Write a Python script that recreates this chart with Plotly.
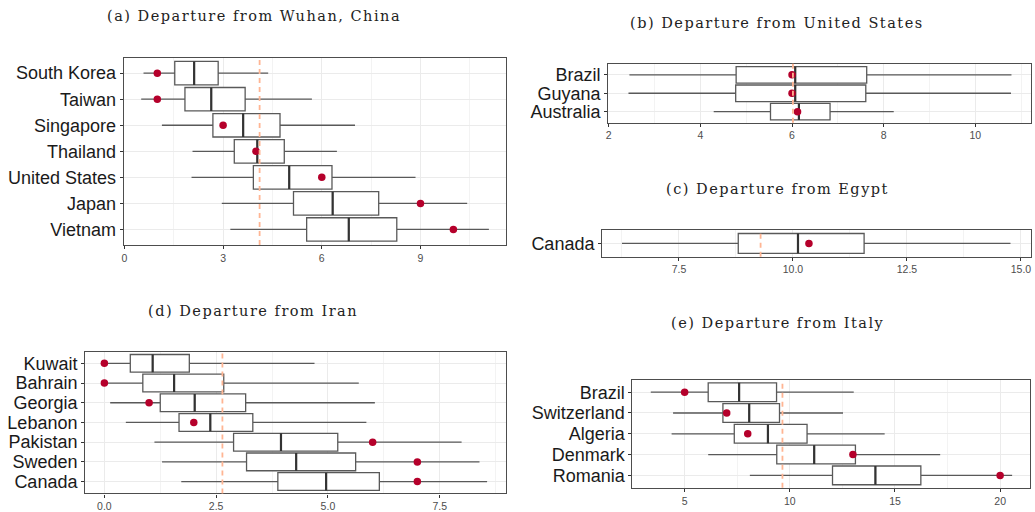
import plotly.graph_objects as go

# ---- (a) Departure from Wuhan, China ----
wuhan_countries = ["South Korea", "Taiwan", "Singapore", "Thailand", "United States", "Japan", "Vietnam"]
wuhan_low = [0.58, 0.51, 1.14, 2.07, 2.04, 2.96, 3.22]
wuhan_q1 = [1.53, 1.84, 2.69, 3.34, 3.92, 5.14, 5.54]
wuhan_med = [2.12, 2.64, 3.61, 4.04, 5.01, 6.33, 6.82]
wuhan_q3 = [2.85, 3.67, 4.73, 4.86, 6.31, 7.73, 8.28]
wuhan_high = [4.37, 5.70, 7.01, 6.46, 8.85, 10.42, 11.08]
wuhan_obs = [1, 1, 3, 4, 6, 9, 10]
wuhan_ref = 4.11

# ---- (b) Departure from United States ----
us_countries = ["Brazil", "Guyana", "Australia"]
us_low = [2.45, 2.43, 4.29]
us_q1 = [4.78, 4.77, 5.53]
us_med = [6.07, 6.07, 6.15]
us_q3 = [7.63, 7.61, 6.83]
us_high = [10.79, 10.78, 8.22]
us_obs = [6, 6, 6.12]
us_ref = 6.02

# ---- (c) Departure from Egypt ----
egypt_countries = ["Canada"]
egypt_low = [6.25]
egypt_q1 = [8.80]
egypt_med = [10.11]
egypt_q3 = [11.56]
egypt_high = [14.77]
egypt_obs = [10.35]
egypt_ref = 9.29

# ---- (d) Departure from Iran ----
iran_countries = ["Kuwait", "Bahrain", "Georgia", "Lebanon", "Pakistan", "Sweden", "Canada"]
iran_low = [0.0, 0.0, 0.13, 0.48, 1.12, 1.29, 1.72]
iran_q1 = [0.58, 0.86, 1.25, 1.67, 2.89, 3.18, 3.88]
iran_med = [1.08, 1.56, 2.02, 2.37, 3.95, 4.29, 4.96]
iran_q3 = [1.90, 2.67, 3.16, 3.32, 5.22, 5.62, 6.15]
iran_high = [4.70, 5.69, 6.05, 5.86, 7.99, 8.39, 8.56]
iran_obs = [0, 0, 1, 2, 6, 7, 7]
iran_ref = 2.64

# ---- (e) Departure from Italy ----
italy_countries = ["Brazil", "Switzerland", "Algeria", "Denmark", "Romania"]
italy_low = [3.39, 4.45, 4.38, 6.12, 8.10]
italy_q1 = [6.12, 6.82, 7.36, 9.38, 12.03]
italy_med = [7.59, 8.07, 8.96, 11.16, 14.07]
italy_q3 = [9.37, 9.51, 10.82, 13.12, 16.23]
italy_high = [13.04, 12.53, 14.51, 17.15, 20.57]
italy_obs = [5, 7, 8, 13, 20]
italy_ref = 9.65

W, H = 1035, 512

BOX_LINE = "#595959"
MEDIAN_LINE = "#333333"
DOT_COLOR = "#B5002B"
REF_COLOR = "#FFB593"
GRID = "#EBEBEB"
BOX_WIDTH = 0.9
TITLE_FONT = dict(family="DejaVu Serif", size=14.5, color="#222222")

fig = go.Figure()


def px_domain_x(left, right):
    return [left / W, right / W]


def px_domain_y(top, bottom):
    return [1 - bottom / H, 1 - top / H]


def add_panel(idx, countries, low, q1, med, q3, high, obs, ref,
              xdom, ydom, xrange, dtick, minor_dtick, tickformat, title, title_xy):
    xa = "x" if idx == 1 else f"x{idx}"
    ya = "y" if idx == 1 else f"y{idx}"
    n = len(countries)
    pos = list(range(n))

    fig.add_trace(go.Box(
        y=pos, q1=q1, median=med, q3=q3,
        lowerfence=low, upperfence=high,
        orientation="h", width=BOX_WIDTH, whiskerwidth=0,
        fillcolor="white", line=dict(color=BOX_LINE, width=1.3),
        boxpoints=False, showlegend=False, xaxis=xa, yaxis=ya,
        hoverinfo="skip",
    ))

    # thicker median bars, drawn over the boxes
    mx, my = [], []
    for p, m in zip(pos, med):
        mx += [m, m, None]
        my += [p - BOX_WIDTH / 2, p + BOX_WIDTH / 2, None]
    fig.add_trace(go.Scatter(
        x=mx, y=my, mode="lines", line=dict(color=MEDIAN_LINE, width=2.2),
        showlegend=False, xaxis=xa, yaxis=ya, hoverinfo="skip",
    ))

    fig.add_trace(go.Scatter(
        x=obs, y=pos, mode="markers",
        marker=dict(color=DOT_COLOR, size=7.5),
        showlegend=False, xaxis=xa, yaxis=ya, hoverinfo="skip",
    ))
    fig.add_shape(type="line", xref=xa, yref=f"{ya} domain",
                  x0=ref, x1=ref, y0=0, y1=1,
                  line=dict(color=REF_COLOR, width=1.8, dash="5px,4px"),
                  layer="above")

    xkey = "xaxis" if idx == 1 else f"xaxis{idx}"
    ykey = "yaxis" if idx == 1 else f"yaxis{idx}"
    fig.layout[xkey] = dict(
        domain=xdom, anchor=ya, range=xrange,
        tick0=0, dtick=dtick, tickformat=tickformat,
        showgrid=True, gridcolor=GRID, gridwidth=1,
        minor=dict(dtick=minor_dtick, tick0=0, showgrid=True,
                   gridcolor="#F3F3F3", gridwidth=0.6, ticks=""),
        zeroline=False,
        showline=True, mirror=True, linecolor="#4D4D4D", linewidth=1.2,
        ticks="outside", ticklen=3, tickcolor="#333333", tickwidth=1,
        tickfont=dict(family="Liberation Sans", size=10.5, color="#4D4D4D"),
        fixedrange=True,
    )
    fig.layout[ykey] = dict(
        domain=ydom, anchor=xa,
        tickmode="array", tickvals=pos, ticktext=countries,
        range=[n - 0.4, -0.6],
        showgrid=True, gridcolor=GRID, gridwidth=1,
        zeroline=False,
        showline=True, mirror=True, linecolor="#4D4D4D", linewidth=1.2,
        ticks="outside", ticklen=3, tickcolor="#333333", tickwidth=1,
        tickfont=dict(family="Liberation Sans", size=18, color="#1A1A1A"),
        fixedrange=True,
    )
    fig.add_annotation(text=f'<span style="letter-spacing:1.5px">{title}</span>',
                       xref="paper", yref="paper",
                       x=title_xy[0] / W, y=1 - title_xy[1] / H,
                       xanchor="center", yanchor="middle", showarrow=False,
                       font=TITLE_FONT)


add_panel(1, wuhan_countries, wuhan_low, wuhan_q1, wuhan_med, wuhan_q3, wuhan_high,
          wuhan_obs, wuhan_ref,
          px_domain_x(122, 505.3), px_domain_y(58, 247),
          [-0.02, 11.61], 3, 1.5, "d",
          "(a) Departure from Wuhan, China", (252, 16))

add_panel(2, us_countries, us_low, us_q1, us_med, us_q3, us_high,
          us_obs, us_ref,
          px_domain_x(607.5, 1030.7), px_domain_y(64.3, 123.7),
          [1.99, 11.21], 2, 1, "d",
          "(b) Departure from United States", (776.7, 22.7))

add_panel(3, egypt_countries, egypt_low, egypt_q1, egypt_med, egypt_q3, egypt_high,
          egypt_obs, egypt_ref,
          px_domain_x(601.3, 1031), px_domain_y(232, 258.7),
          [5.815, 15.22], 2.5, 1.25, ".1f",
          "(c) Departure from Egypt", (776.7, 190))

add_panel(4, iran_countries, iran_low, iran_q1, iran_med, iran_q3, iran_high,
          iran_obs, iran_ref,
          px_domain_x(83.3, 505.3), px_domain_y(354.3, 497.3),
          [-0.43, 8.99], 2.5, 1.25, ".1f",
          "(d) Departure from Iran", (251, 313.3))

add_panel(5, italy_countries, italy_low, italy_q1, italy_med, italy_q3, italy_high,
          italy_obs, italy_ref,
          px_domain_x(631.7, 1030), px_domain_y(382.7, 491.7),
          [2.52, 21.42], 5, 2.5, "d",
          "(e) Departure from Italy", (776.7, 326))

fig.update_layout(
    width=W, height=H,
    margin=dict(l=0, r=0, t=0, b=0),
    paper_bgcolor="white", plot_bgcolor="white",
    showlegend=False,
)

fig.write_html("out.html", config={"displayModeBar": False})
